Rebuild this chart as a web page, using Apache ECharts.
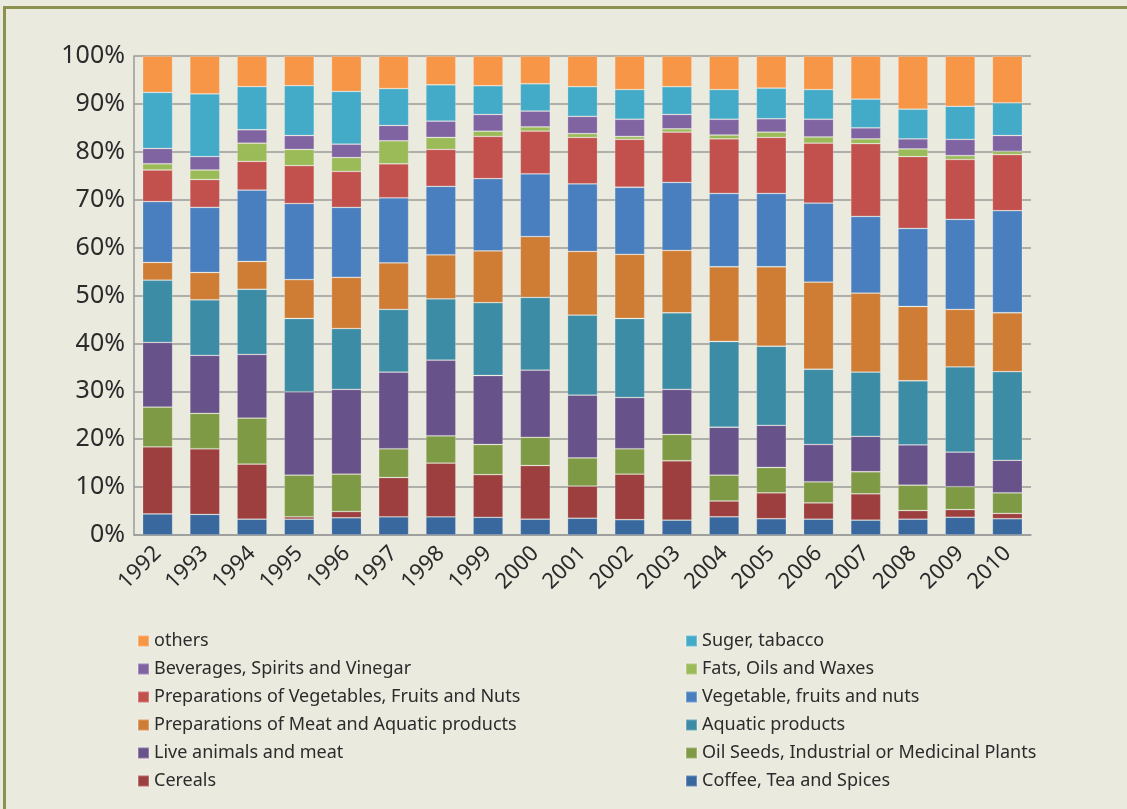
<!DOCTYPE html>
<html>
<head>
<meta charset="utf-8">
<script src="https://cdn.jsdelivr.net/npm/echarts@6/dist/echarts.min.js"></script>
<style>
  html, body { margin: 0; padding: 0; background: #EBEADF; }
  #chart { width: 1127px; height: 809px; }
</style>
</head>
<body>
<div id="chart"></div>
<script>
// Years on the category axis
const years = ['1992','1993','1994','1995','1996','1997','1998','1999','2000','2001',
               '2002','2003','2004','2005','2006','2007','2008','2009','2010'];

// Share of each product group per year (%), listed from the bottom of the stack upwards
const coffeeTeaSpices = [4.4,4.3,3.3,3.3,3.6,3.8,3.8,3.7,3.3,3.5,3.2,3.1,3.8,3.4,3.3,3.1,3.3,3.7,3.4];
const cereals         = [14.0,13.7,11.5,0.5,1.3,8.2,11.2,8.9,11.2,6.7,9.5,12.4,3.3,5.4,3.4,5.5,1.8,1.6,1.1];
const oilSeeds        = [8.3,7.4,9.6,8.7,7.8,6.0,5.7,6.3,5.9,5.9,5.3,5.5,5.4,5.3,4.4,4.6,5.3,4.8,4.3];
const liveAnimals     = [13.5,12.1,13.3,17.4,17.7,16.0,15.8,14.4,14.0,13.1,10.7,9.4,10.0,8.8,7.8,7.4,8.4,7.2,6.8];
const aquatic         = [13.0,11.6,13.6,15.3,12.7,13.1,12.8,15.2,15.2,16.7,16.5,16.0,17.9,16.5,15.7,13.4,13.4,17.8,18.5];
const prepMeat        = [3.7,5.7,5.8,8.1,10.7,9.7,9.2,10.8,12.7,13.3,13.4,13.0,15.6,16.6,18.2,16.5,15.5,12.0,12.3];
const vegFruitsNuts   = [12.7,13.6,14.9,15.9,14.6,13.6,14.3,15.1,13.1,14.1,14.0,14.2,15.3,15.3,16.5,16.0,16.3,18.8,21.3];
const prepVegetables  = [6.6,5.8,6.0,7.9,7.5,7.1,7.7,8.8,8.9,9.7,10.0,10.5,11.4,11.7,12.5,15.2,15.0,12.5,11.7];
const fatsOils        = [1.3,2.0,3.8,3.4,2.9,4.8,2.5,1.1,0.9,0.8,0.6,0.7,0.8,1.1,1.3,1.0,1.6,0.8,0.7];
const beverages       = [3.2,2.8,2.8,2.9,2.8,3.2,3.4,3.5,3.3,3.6,3.6,3.0,3.3,2.8,3.7,2.3,2.1,3.4,3.3];
const sugarTobacco    = [11.7,13.1,9.0,10.4,11.0,7.7,7.6,6.0,5.7,6.2,6.2,5.8,6.2,6.4,6.2,6.0,6.2,6.9,6.8];
const others          = [7.6,7.9,6.4,6.2,7.4,6.8,6.0,6.2,5.8,6.4,7.0,6.4,7.0,6.7,7.0,9.0,11.1,10.5,9.8];

// Y-axis tick values
const yTicks = [0,10,20,30,40,50,60,70,80,90,100];

const seriesDefs = [
  { name: 'Coffee, Tea and Spices', data: coffeeTeaSpices, color: '#38689E' },
  { name: 'Cereals', data: cereals, color: '#9C3F3E' },
  { name: 'Oil Seeds, Industrial or Medicinal Plants', data: oilSeeds, color: '#7F9A45' },
  { name: 'Live animals and meat', data: liveAnimals, color: '#68528A' },
  { name: 'Aquatic products', data: aquatic, color: '#3D8CA5' },
  { name: 'Preparations of Meat and Aquatic products', data: prepMeat, color: '#CF7C35' },
  { name: 'Vegetable, fruits and nuts', data: vegFruitsNuts, color: '#4A7FBF' },
  { name: 'Preparations of Vegetables, Fruits and Nuts', data: prepVegetables, color: '#C2504D' },
  { name: 'Fats, Oils and Waxes', data: fatsOils, color: '#9BBB59' },
  { name: 'Beverages, Spirits and Vinegar', data: beverages, color: '#8064A2' },
  { name: 'Suger, tabacco', data: sugarTobacco, color: '#43AAC8' },
  { name: 'others', data: others, color: '#F79646' }
];

const legendLeft = ['others','Beverages, Spirits and Vinegar','Preparations of Vegetables, Fruits and Nuts',
                    'Preparations of Meat and Aquatic products','Live animals and meat','Cereals'];
const legendRight = ['Suger, tabacco','Fats, Oils and Waxes','Vegetable, fruits and nuts',
                     'Aquatic products','Oil Seeds, Industrial or Medicinal Plants','Coffee, Tea and Spices'];

const FONT = '"Noto Sans", "Open Sans", sans-serif';
const chart = echarts.init(document.getElementById('chart'), null, { renderer: 'canvas' });

const legendCommon = {
  orient: 'vertical',
  top: 626,
  itemWidth: 11,
  itemHeight: 11,
  itemGap: 8,
  icon: 'rect',
  selectedMode: false,
  textStyle: { fontFamily: FONT, fontSize: 18, color: '#2b2b2b', lineHeight: 20 }
};

chart.setOption({
  backgroundColor: '#EBEADF',
  animation: false,
  graphic: [
    { type: 'rect', shape: { x: 3, y: 6, width: 1124, height: 3 }, style: { fill: '#8C9150' } },
    { type: 'rect', shape: { x: 3, y: 6, width: 3, height: 803 }, style: { fill: '#8C9150' } }
  ],
  grid: { left: 134, right: 96, top: 56, bottom: 274, containLabel: false },
  legend: [
    Object.assign({ left: 132, data: legendLeft }, legendCommon),
    Object.assign({ left: 680, data: legendRight }, legendCommon)
  ],
  xAxis: {
    type: 'category',
    data: years,
    axisLine: { show: true, lineStyle: { color: '#9A9A9A', width: 1.5 } },
    axisTick: { show: false },
    axisLabel: {
      rotate: 45, margin: 15, interval: 0,
      fontFamily: FONT, fontSize: 22, color: '#2b2b2b'
    }
  },
  yAxis: {
    type: 'value',
    min: yTicks[0],
    max: yTicks[yTicks.length - 1],
    interval: 10,
    axisLine: { show: true, lineStyle: { color: '#9A9A9A', width: 1.5 } },
    axisTick: { show: false },
    splitLine: { show: true, lineStyle: { color: '#9A9A9A', width: 1.5 } },
    axisLabel: {
      margin: 9, fontFamily: FONT, fontSize: 25, color: '#2b2b2b',
      formatter: v => v + '%'
    }
  },
  series: seriesDefs.map(s => ({
    name: s.name,
    type: 'bar',
    stack: 'share',
    barWidth: 30,
    data: s.data,
    itemStyle: { color: s.color, borderColor: 'rgba(255,255,255,0.25)', borderWidth: 0.8 },
    emphasis: { disabled: true }
  }))
});
</script>
</body>
</html>
